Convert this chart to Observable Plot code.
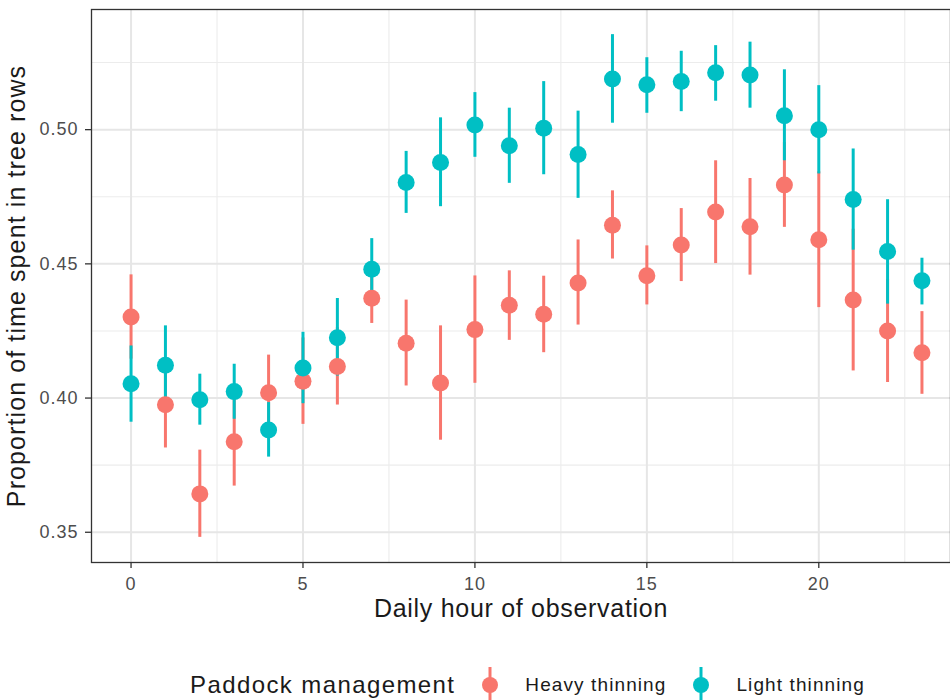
<!DOCTYPE html>
<html>
<head>
<meta charset="utf-8">
<script src="https://cdn.jsdelivr.net/npm/d3@7"></script>
<script src="https://cdn.jsdelivr.net/npm/@observablehq/plot@0.6"></script>
<style>
  html, body { margin: 0; padding: 0; background: #fff; }
  body { width: 950px; height: 700px; overflow: hidden; font-family: "Liberation Sans", Arial, sans-serif; }
  #legend { display: flex; align-items: center; height: 90px; padding-left: 190px; box-sizing: border-box; }
  #legend .ltitle { font-size: 24px; letter-spacing: 1.4px; color: #1a1a1a; white-space: nowrap; }
  #legend .lkey { margin-left: 25px; display: block; }
  #legend .llab { margin-left: 25px; font-size: 19px; letter-spacing: 1.1px; color: #1a1a1a; white-space: nowrap; }
  g[aria-label="y-axis tick label"] text, g[aria-label="x-axis tick label"] text { letter-spacing: 1px; }
  g[aria-label="y-axis label"] text { letter-spacing: 1.1px; }
  g[aria-label="x-axis label"] text { letter-spacing: 0.7px; }
</style>
</head>
<body>
<div id="chart"></div>
<div id="legend"></div>
<script>
// ---- Data ----
const hours = [0,1,2,3,4,5,6,7,8,9,10,11,12,13,14,15,16,17,18,19,20,21,22,23];

const groups = ["Heavy thinning", "Light thinning"];
const colors = ["#F8766D", "#00BFC4"];

const heavyMean = [0.4302,0.3975,0.3643,0.3837,0.4020,0.4063,0.4118,0.4372,0.4204,0.4056,0.4255,0.4346,0.4312,0.4429,0.4644,0.4456,0.4570,0.4693,0.4638,0.4794,0.4590,0.4365,0.4250,0.4169];
const heavyLow  = [0.4145,0.3814,0.3481,0.3672,0.3880,0.3902,0.3974,0.4278,0.4045,0.3843,0.4055,0.4215,0.4169,0.4272,0.4518,0.4347,0.4434,0.4501,0.4458,0.4636,0.4337,0.4101,0.4058,0.4014];
const heavyHigh = [0.4459,0.4136,0.3806,0.4002,0.4160,0.4224,0.4262,0.4466,0.4365,0.4269,0.4455,0.4474,0.4454,0.4589,0.4772,0.4567,0.4706,0.4884,0.4818,0.4952,0.4843,0.4629,0.4442,0.4322];

const lightMean = [0.4053,0.4122,0.3994,0.4024,0.3881,0.4112,0.4225,0.4480,0.4803,0.4878,0.5017,0.4940,0.5005,0.4907,0.5189,0.5167,0.5179,0.5212,0.5204,0.5052,0.5000,0.4740,0.4546,0.4437];
const lightLow  = [0.3910,0.3975,0.3899,0.3921,0.3780,0.3979,0.4082,0.4366,0.4688,0.4713,0.4897,0.4800,0.4832,0.4744,0.5024,0.5061,0.5067,0.5106,0.5080,0.4884,0.4835,0.4551,0.4350,0.4347];
const lightHigh = [0.4194,0.4269,0.4089,0.4126,0.3983,0.4245,0.4371,0.4594,0.4919,0.5044,0.5138,0.5080,0.5179,0.5069,0.5354,0.5268,0.5292,0.5313,0.5326,0.5223,0.5164,0.4928,0.4739,0.4521];

const xMajor = [0, 5, 10, 15, 20];
const xMinor = [2.5, 7.5, 12.5, 17.5, 22.5];
const yMajor = [0.35, 0.40, 0.45, 0.50];
const yMinor = [0.375, 0.425, 0.475, 0.525];

const xTitle = "Daily hour of observation";
const yTitle = "Proportion of time spent in tree rows";
const legendTitle = "Paddock management";

// ---- Build table ----
const data = [];
hours.forEach((h, i) => data.push({hour: h, group: groups[0], mean: heavyMean[i], lo: heavyLow[i], hi: heavyHigh[i]}));
hours.forEach((h, i) => data.push({hour: h, group: groups[1], mean: lightMean[i], lo: lightLow[i], hi: lightHigh[i]}));

// ggplot-like 5% expansion
const xExt = d3.extent(hours);
const xPad = (xExt[1] - xExt[0]) * 0.05;
const yExt = [d3.min(data, d => d.lo), d3.max(data, d => d.hi)];
const yPad = (yExt[1] - yExt[0]) * 0.05;

const font = '"Liberation Sans", Arial, sans-serif';

const chart = Plot.plot({
  width: 950,
  height: 640,
  marginTop: 9,
  marginBottom: 78,
  marginLeft: 91,
  marginRight: 0,
  style: {fontFamily: font, background: "#fff", overflow: "hidden"},
  x: {domain: [xExt[0] - xPad, xExt[1] + xPad], range: [91, 961]},
  y: {domain: [yExt[0] - yPad, yExt[1] + yPad]},
  color: {domain: groups, range: colors},
  marks: [
    Plot.ruleX(xMinor, {stroke: "#ececec", strokeWidth: 1.1}),
    Plot.ruleY(yMinor, {stroke: "#ececec", strokeWidth: 1.1}),
    Plot.ruleX(xMajor, {stroke: "#e6e6e6", strokeWidth: 2}),
    Plot.ruleY(yMajor, {stroke: "#e6e6e6", strokeWidth: 2}),
    Plot.ruleX(data, {x: "hour", y1: "lo", y2: "hi", stroke: "group", strokeWidth: 3}),
    Plot.dot(data, {x: "hour", y: "mean", fill: "group", r: 8.5}),
    Plot.frame({stroke: "#333333", strokeWidth: 1.3}),
    Plot.axisY(yMajor, {tickSize: 6, tickPadding: 7, tickFormat: d3.format(".2f"), fontSize: 18, fill: "#4d4d4d", stroke: "#333333", strokeWidth: 1.3, label: null}),
    Plot.axisY(yMajor, {tickSize: 0, tickFormat: () => "", label: yTitle, labelAnchor: "center", labelArrow: "none", labelOffset: 84, fontSize: 25, fill: "#1a1a1a"}),
    Plot.axisX(xMajor, {tickSize: 6, tickPadding: 9, fontSize: 18, fill: "#4d4d4d", stroke: "#333333", strokeWidth: 1.3, label: null}),
    Plot.axisX(xMajor, {tickSize: 0, tickFormat: () => "", label: xTitle, labelAnchor: "center", labelArrow: "none", labelOffset: 54, fontSize: 25, fill: "#1a1a1a"})
  ]
});
// strip any direction arrows that an older Plot may add to the titles
d3.select(chart).selectAll('g[aria-label="x-axis label"] text, g[aria-label="y-axis label"] text').each(function() {
  const s = this.textContent.replace(/\s*[↑↓←→]\s*/g, "");
  if (s !== this.textContent) this.textContent = s;
});
document.getElementById("chart").appendChild(chart);

// ---- Legend (HTML, below the SVG) ----
const legend = document.getElementById("legend");
const t = document.createElement("span");
t.className = "ltitle";
t.textContent = legendTitle;
legend.appendChild(t);
groups.forEach((g, i) => {
  const svg = d3.create("svg").attr("class", "lkey").attr("width", 20).attr("height", 36);
  svg.append("line").attr("x1", 10).attr("x2", 10).attr("y1", 0).attr("y2", 36)
    .attr("stroke", colors[i]).attr("stroke-width", 3);
  svg.append("circle").attr("cx", 10).attr("cy", 18).attr("r", 8).attr("fill", colors[i]);
  legend.appendChild(svg.node());
  const lab = document.createElement("span");
  lab.className = "llab";
  lab.textContent = g;
  legend.appendChild(lab);
});
</script>
</body>
</html>
